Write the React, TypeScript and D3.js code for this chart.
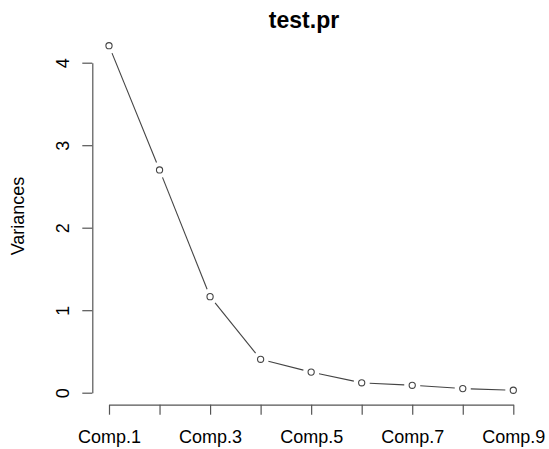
import React, { useEffect, useRef } from 'react';
import * as d3 from 'd3';

const WIDTH = 549;
const HEIGHT = 449;

// screeplot values
const COMPONENTS = ['Comp.1', 'Comp.2', 'Comp.3', 'Comp.4', 'Comp.5', 'Comp.6', 'Comp.7', 'Comp.8', 'Comp.9'];
const VARIANCES = [4.206, 2.7, 1.164, 0.405, 0.25, 0.12, 0.09, 0.05, 0.03];
const Y_TICKS = [0, 1, 2, 3, 4];
const TITLE = 'test.pr';
const Y_LABEL = 'Variances';

const FONT = '"Liberation Sans", Arial, Helvetica, sans-serif';
const AXIS_COLOR = '#555';
const LINE_COLOR = '#444';
const GAP = 8;

export default function App() {
  const xAxisRef = useRef<SVGGElement>(null);
  const yAxisRef = useRef<SVGGElement>(null);

  const x = d3.scalePoint<string>().domain(COMPONENTS).range([109, 513.3]);
  const y = d3.scaleLinear().domain([0, 4]).range([392.7, 62.7]);

  const axisX = 92.3;
  const axisY = 404.7;

  useEffect(() => {
    const xAxis = d3.axisBottom(x)
      .tickSize(10)
      .tickSizeOuter(0)
      .tickFormat((d, i) => (i % 2 === 0 ? d : ''));
    const gx = d3.select(xAxisRef.current);
    gx.call(xAxis);
    gx.select('.domain').attr('stroke', AXIS_COLOR).attr('stroke-width', 1.2);
    gx.selectAll('.tick line').attr('stroke', AXIS_COLOR).attr('stroke-width', 1.2);
    gx.selectAll('.tick text')
      .attr('y', 38.5)
      .attr('dy', null)
      .attr('fill', '#000')
      .style('font-family', FONT)
      .style('font-size', '18px');
    gx.attr('font-family', null).attr('font-size', null);

    const yAxis = d3.axisLeft(y).tickValues(Y_TICKS).tickSize(10).tickSizeOuter(0).tickFormat(d3.format('d'));
    const gy = d3.select(yAxisRef.current);
    gy.call(yAxis);
    gy.select('.domain').attr('stroke', AXIS_COLOR).attr('stroke-width', 1.2);
    gy.selectAll('.tick line').attr('stroke', AXIS_COLOR).attr('stroke-width', 1.2);
    gy.selectAll('.tick text')
      .attr('x', 0)
      .attr('y', -23.3)
      .attr('dy', null)
      .attr('transform', 'rotate(-90)')
      .attr('text-anchor', 'middle')
      .attr('fill', '#000')
      .style('font-family', FONT)
      .style('font-size', '18px');
    gy.attr('font-family', null).attr('font-size', null).attr('text-anchor', null);
  }, []);

  const pts = COMPONENTS.map((c, i) => [x(c) as number, y(VARIANCES[i])]);

  // type "b": segments stop short of the points
  const segments = pts.slice(1).map((p, i) => {
    const [x0, y0] = pts[i];
    const [x1, y1] = p;
    const len = Math.hypot(x1 - x0, y1 - y0);
    const ux = (x1 - x0) / len;
    const uy = (y1 - y0) / len;
    return {
      x1: x0 + ux * GAP, y1: y0 + uy * GAP,
      x2: x1 - ux * GAP, y2: y1 - uy * GAP,
    };
  });

  return (
    <svg
      width={WIDTH}
      height={HEIGHT}
      style={{ position: 'absolute', left: 0, top: 0, background: '#fff' }}
    >
      <text x={304} y={28} textAnchor="middle" fontFamily={FONT} fontWeight="bold" fontSize={23} fill="#000">
        {TITLE}
      </text>
      <text
        transform={`translate(24,216) rotate(-90)`}
        textAnchor="middle"
        fontFamily={FONT}
        fontSize={18}
        fill="#000"
      >
        {Y_LABEL}
      </text>
      <g ref={xAxisRef} transform={`translate(0,${axisY})`} />
      <g ref={yAxisRef} transform={`translate(${axisX},0)`} />
      {segments.map((s, i) => (
        <line key={i} x1={s.x1} y1={s.y1} x2={s.x2} y2={s.y2} stroke={LINE_COLOR} strokeWidth={1.1} />
      ))}
      {pts.map(([px, py], i) => (
        <circle key={i} cx={px} cy={py} r={3.1} fill="none" stroke={LINE_COLOR} strokeWidth={1.1} />
      ))}
    </svg>
  );
}
